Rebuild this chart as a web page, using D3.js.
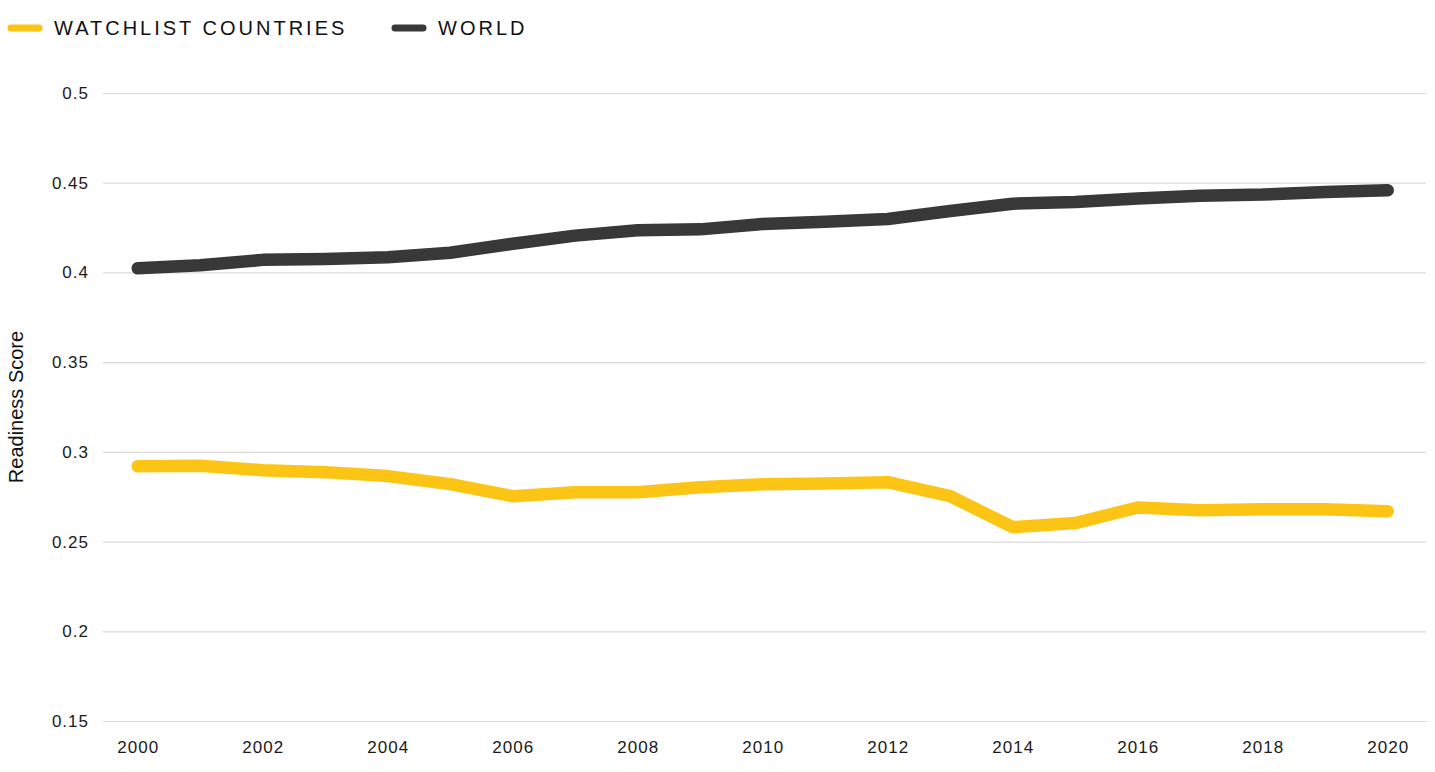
<!DOCTYPE html>
<html>
<head>
  <script src="https://d3js.org/d3.v7.min.js"></script>
  <style>
    body { margin: 0; background: #fff; font-family: "Liberation Sans", Arial, sans-serif; }
    .tick text { fill: #1a1a1a; font-size: 17px; letter-spacing: 1px; }
    .legend-label { font-size: 20px; letter-spacing: 3px; fill: #111; }
  </style>
</head>
<body>
  <svg id="chart" width="1435" height="772"></svg>
  <script>
    // data
    const years = d3.range(2000, 2021);
    const watchlist = [0.292, 0.2922, 0.2898, 0.2887, 0.2865, 0.282, 0.2753, 0.2775, 0.2775, 0.2803, 0.282,
      0.2823, 0.2831, 0.2753, 0.258, 0.2603, 0.269, 0.2675, 0.268, 0.268, 0.2669];
    const world = [0.4023, 0.404, 0.407, 0.4075, 0.4085, 0.411, 0.416, 0.4205, 0.4235, 0.424, 0.427,
      0.4282, 0.4298, 0.4342, 0.4383, 0.4392, 0.4412, 0.4428, 0.4434, 0.4448, 0.4458];
    const yTicks = [0.15, 0.2, 0.25, 0.3, 0.35, 0.4, 0.45, 0.5];
    const xTicks = d3.range(2000, 2021, 2);

    const seriesList = [
      { name: "WATCHLIST COUNTRIES", color: "#fcc515", values: watchlist },
      { name: "WORLD", color: "#383838", values: world }
    ];

    const svg = d3.select("#chart");
    const plotLeft = 103, plotRight = 1426, plotTop = 93, plotBottom = 721;

    const x = d3.scaleLinear().domain([2000, 2020]).range([137.7, 1387.7]);
    const y = d3.scaleLinear().domain([0.15, 0.5]).range([plotBottom, plotTop]);

    // gridlines + y labels
    const yAxis = svg.append("g")
      .attr("transform", `translate(${plotLeft},0)`)
      .call(d3.axisLeft(y).tickValues(yTicks).tickSize(-(plotRight - plotLeft)).tickPadding(14)
        .tickFormat(d => String(+d.toFixed(2))));
    yAxis.select(".domain").remove();
    yAxis.selectAll(".tick line").attr("stroke", "#d9d9d9").attr("stroke-width", 1.2);

    // x labels
    const xAxis = svg.append("g")
      .attr("transform", `translate(0,${plotBottom})`)
      .call(d3.axisBottom(x).tickValues(xTicks).tickFormat(d3.format("d")).tickSize(0).tickPadding(20));
    xAxis.select(".domain").remove();

    svg.append("text")
      .attr("transform", `translate(23,${(plotTop + plotBottom) / 2}) rotate(-90)`)
      .attr("text-anchor", "middle")
      .attr("font-size", 20)
      .attr("fill", "#111")
      .text("Readiness Score");

    const line = d3.line()
      .x((d, i) => x(years[i]))
      .y(d => y(d));

    // world drawn first, watchlist on top
    seriesList.slice().reverse().forEach(s => {
      svg.append("path")
        .datum(s.values)
        .attr("fill", "none")
        .attr("stroke", s.color)
        .attr("stroke-width", 12.5)
        .attr("stroke-linecap", "round")
        .attr("stroke-linejoin", "round")
        .attr("d", line);
    });

    // legend
    const legendPos = [8, 392];
    seriesList.forEach((s, i) => {
      const g = svg.append("g").attr("transform", `translate(${legendPos[i]},28)`);
      g.append("line")
        .attr("x1", 3).attr("x2", 31)
        .attr("stroke", s.color).attr("stroke-width", 7).attr("stroke-linecap", "round");
      g.append("text")
        .attr("class", "legend-label")
        .attr("x", 46).attr("dy", "0.36em")
        .text(s.name);
    });
  </script>
</body>
</html>
